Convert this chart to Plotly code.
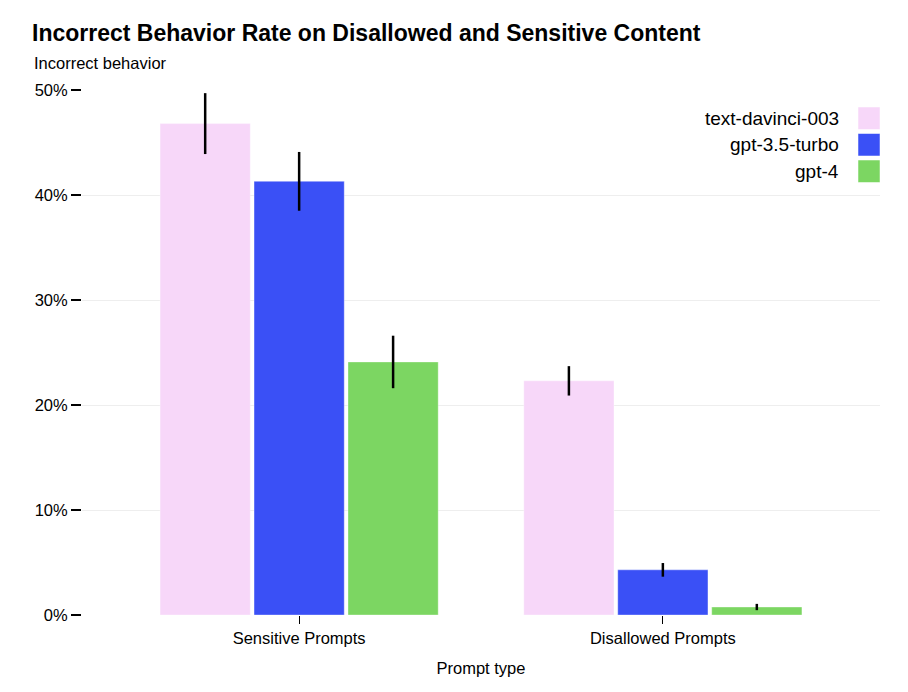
import plotly.graph_objects as go

categories = ["Sensitive Prompts", "Disallowed Prompts"]
models = ["text-davinci-003", "gpt-3.5-turbo", "gpt-4"]
colors = ["#f7d7f9", "#3a50f6", "#7cd662"]
values = {
    "text-davinci-003": [0.468, 0.223],
    "gpt-3.5-turbo": [0.413, 0.043],
    "gpt-4": [0.241, 0.0076],
}
errors = {
    "text-davinci-003": [0.029, 0.014],
    "gpt-3.5-turbo": [0.028, 0.0065],
    "gpt-4": [0.025, 0.003],
}
y_ticks = [0, 0.1, 0.2, 0.3, 0.4, 0.5]
y_tick_labels = ["0%", "10%", "20%", "30%", "40%", "50%"]

FONT = "Liberation Sans, Arial, Helvetica, sans-serif"

# page renders with an 8px offset; work in page coords and convert
OFF = 8
W, H = 908 - OFF, 692 - OFF
PL, PR, PT, PB = 82, 880, 90, 615  # plot area in page coords
PW, PH = PR - PL, PB - PT


def px(xp):
    return (xp - PL) / PW


def py(yp):
    return (PB - yp) / PH


fig = go.Figure()
for m, c in zip(models, colors):
    fig.add_trace(go.Bar(
        name=m, x=categories, y=values[m],
        marker=dict(color=c, line=dict(color="rgba(255,255,255,0.35)", width=1)),
        error_y=dict(type="data", array=errors[m], visible=True,
                     color="black", thickness=2.5, width=0),
        showlegend=False,
    ))

# custom legend (text left of swatch)
leg_top = 107
for i, (m, c) in enumerate(zip(models, colors)):
    y0 = leg_top + i * 26.5
    fig.add_shape(type="rect", xref="paper", yref="paper",
                  x0=px(858), x1=px(880), y0=py(y0 + 22.5), y1=py(y0),
                  fillcolor=c, line=dict(color="rgba(255,255,255,0.5)", width=1))
    fig.add_annotation(xref="paper", yref="paper",
                       x=px(841), y=py(y0 + 11),
                       xanchor="right", yanchor="middle", showarrow=False,
                       text=m, font=dict(size=19, color="black", family=FONT))

fig.add_annotation(xref="paper", yref="paper", x=px(32), y=py(63),
                   xanchor="left", yanchor="middle", showarrow=False,
                   text="Incorrect behavior", font=dict(size=16.5, color="black", family=FONT))

fig.update_layout(
    width=W, height=H,
    margin=dict(l=PL - OFF, r=W - (PR - OFF), t=PT - OFF, b=H - (PB - OFF)),
    paper_bgcolor="white", plot_bgcolor="white",
    font=dict(family=FONT, color="black", size=16.5),
    barmode="group", bargap=0.225, bargroupgap=0.04,
    title=dict(text="<b>Incorrect Behavior Rate on Disallowed and Sensitive Content</b>",
               xref="container", yref="container", x=(32 - OFF) / W, xanchor="left",
               y=1 - (33 - OFF) / H, yanchor="middle",
               font=dict(size=23, color="black", family=FONT)),
    xaxis=dict(range=[-0.597, 1.597], showgrid=False, ticks="outside", ticklen=8,
               tickcolor="black", tickwidth=1.2, showline=False,
               title=dict(text="Prompt type", font=dict(size=16.5), standoff=16),
               tickfont=dict(size=16.5)),
    yaxis=dict(range=[0, 0.5], tickvals=y_ticks, ticktext=y_tick_labels,
               showgrid=True, gridcolor="#eeeeee", gridwidth=1, zeroline=False,
               ticks="outside", ticklen=10, tickcolor="black", tickwidth=1.5,
               tickfont=dict(size=16.5), showline=False),
)

fig.write_html("out.html")
